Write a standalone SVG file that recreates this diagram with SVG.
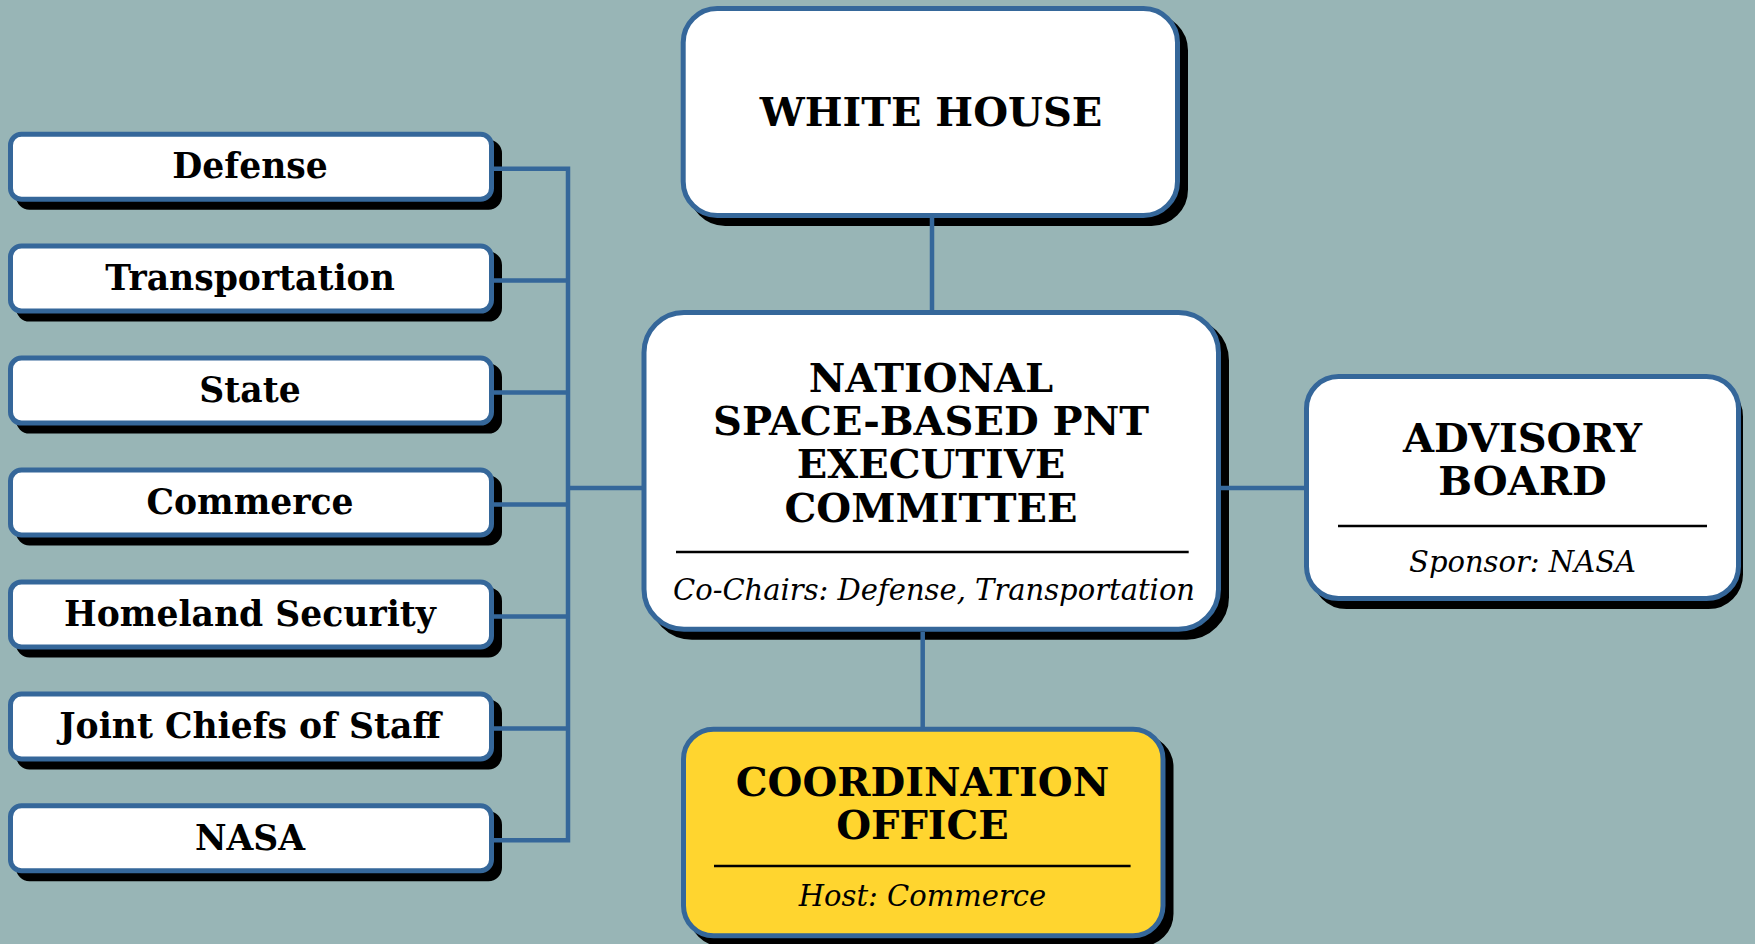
<svg xmlns="http://www.w3.org/2000/svg" width="1755" height="944" viewBox="0 0 1755 944">
<style>
.bg{fill:#98B5B6}
.box{fill:#fff;stroke:#35679A;stroke-width:5}
.yel{fill:#FFD52F;stroke:#35679A;stroke-width:5}
.sh{fill:#000;stroke:#000;stroke-width:5}
.con{stroke:#35679A;stroke-width:4.5;fill:none}
.div{stroke:#000;stroke-width:2.5}
.b{font-family:"DejaVu Serif","Liberation Serif",serif;font-weight:bold;fill:#000;text-anchor:middle}
.i{font-family:"DejaVu Serif","Liberation Serif",serif;font-style:italic;fill:#000;text-anchor:middle}
.sm{font-size:34.6px}
.lg{font-size:40px}
.it{font-size:29px}
</style>
<rect class="bg" x="0" y="0" width="1755" height="944"/>
<g id="defense"><rect class="sh" x="18.5" y="142.2" width="481" height="65" rx="11"/><rect class="box" x="10.5" y="134.2" width="481" height="65" rx="11"/><text class="b sm" x="250" y="178.3">Defense</text></g>
<g id="transportation"><rect class="sh" x="18.5" y="254.1" width="481" height="65" rx="11"/><rect class="box" x="10.5" y="246.1" width="481" height="65" rx="11"/><text class="b sm" x="250" y="290.2">Transportation</text></g>
<g id="state"><rect class="sh" x="18.5" y="366.1" width="481" height="65" rx="11"/><rect class="box" x="10.5" y="358.1" width="481" height="65" rx="11"/><text class="b sm" x="250" y="402.2">State</text></g>
<g id="commerce"><rect class="sh" x="18.5" y="478" width="481" height="65" rx="11"/><rect class="box" x="10.5" y="470" width="481" height="65" rx="11"/><text class="b sm" x="250" y="514.1">Commerce</text></g>
<g id="homeland"><rect class="sh" x="18.5" y="589.9" width="481" height="65" rx="11"/><rect class="box" x="10.5" y="581.9" width="481" height="65" rx="11"/><text class="b sm" x="250" y="626">Homeland Security</text></g>
<g id="jcs"><rect class="sh" x="18.5" y="701.9" width="481" height="65" rx="11"/><rect class="box" x="10.5" y="693.9" width="481" height="65" rx="11"/><text class="b sm" x="250" y="738">Joint Chiefs of Staff</text></g>
<g id="nasa"><rect class="sh" x="18.5" y="813.8" width="481" height="65" rx="11"/><rect class="box" x="10.5" y="805.8" width="481" height="65" rx="11"/><text class="b sm" x="250" y="849.9">NASA</text></g>
<g id="whitehouse"><rect class="sh" x="691.2" y="16.5" width="494.3" height="207" rx="34"/><rect class="box" x="683.2" y="8.5" width="494.3" height="207" rx="34"/><text class="b lg" x="931" y="126">WHITE HOUSE</text></g>
<g id="excom"><rect class="sh" x="652" y="320.5" width="574.5" height="316.7" rx="40"/><rect class="box" x="644" y="312.5" width="574.5" height="316.7" rx="40"/>
<text class="b lg" x="931" y="391.7">NATIONAL</text><text class="b lg" x="931" y="435">SPACE-BASED PNT</text><text class="b lg" x="931" y="478.3">EXECUTIVE</text><text class="b lg" x="931" y="521.7">COMMITTEE</text>
<line class="div" x1="676" y1="552" x2="1188.7" y2="552"/><text class="i it" x="934" y="600">Co-Chairs: Defense, Transportation</text></g>
<g id="advisory"><rect class="sh" x="1314.5" y="384.5" width="426" height="222" rx="32"/><rect class="box" x="1306.5" y="376.5" width="432" height="222" rx="32"/>
<text class="b lg" x="1522.5" y="452">ADVISORY</text><text class="b lg" x="1522.5" y="495">BOARD</text>
<line class="div" x1="1338" y1="526" x2="1707" y2="526"/><text class="i it" x="1522.5" y="572">Sponsor: NASA</text></g>
<g id="coordination"><rect class="sh" x="691.5" y="737.2" width="479.5" height="206.6" rx="30"/><rect class="yel" x="683.5" y="729.2" width="479.5" height="206.6" rx="30"/>
<text class="b lg" x="922.5" y="795.7">COORDINATION</text><text class="b lg" x="922.5" y="839.3">OFFICE</text>
<line class="div" x1="714" y1="866" x2="1130.6" y2="866"/><text class="i it" x="922.5" y="906">Host: Commerce</text></g>
<g id="connectors">
<path class="con" d="M494 168.7H568M494 280.6H568M494 392.6H568M494 504.5H568M494 616.4H568M494 728.4H568M494 840.3H568M568 166.5V842.5M566 488H642"/>
<path class="con" d="M932 218V311M1221 488H1305M922.7 632V727"/>
</g>
</svg>
